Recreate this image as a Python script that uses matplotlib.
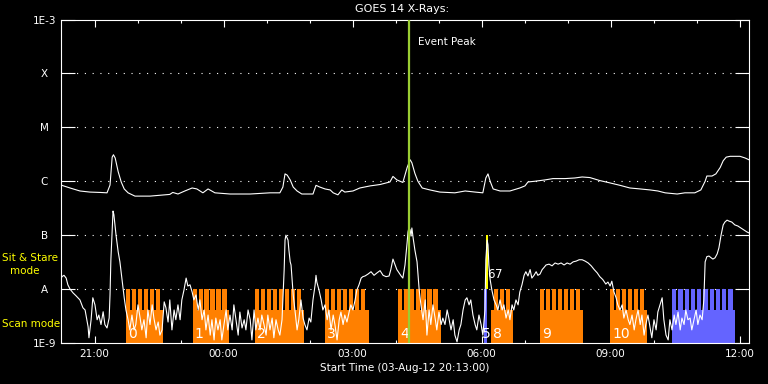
import numpy as np
import matplotlib
matplotlib.use('Agg')
import matplotlib.pyplot as plt
import matplotlib.dates as mdates
import matplotlib.transforms as mtransforms
from matplotlib.ticker import NullLocator

start = np.datetime64('2012-08-03T20:13:00')

# GOES 14 long channel (1-8 A): hours after start, flux W/m^2
long_hours = [0.00, 0.21, 0.44, 0.67, 0.91, 1.07, 1.14, 1.19, 1.22, 1.26, 1.33, 1.40, 1.47,
              1.56, 1.72, 2.07, 2.53, 2.60, 2.72, 2.88, 3.05, 3.16, 3.30, 3.42, 3.58, 3.93,
              4.40, 4.86, 5.09, 5.16, 5.21, 5.26, 5.33, 5.40, 5.49, 5.60, 5.86, 5.93, 6.02,
              6.14, 6.26, 6.33, 6.44, 6.53, 6.60, 6.79, 6.95, 7.19, 7.42, 7.65, 7.72, 7.81,
              7.95, 8.05, 8.12, 8.16, 8.23, 8.30, 8.40, 8.58, 8.81, 9.16, 9.40, 9.63, 9.81,
              9.88, 9.93, 9.98, 10.05, 10.21, 10.44, 10.67, 10.79, 10.86, 11.02, 11.26, 11.44,
              11.72, 11.95, 12.12, 12.30, 12.53, 12.77, 13.00, 13.23, 13.47, 13.70, 13.88,
              14.05, 14.33, 14.51, 14.74, 14.88, 14.98, 15.02, 15.14, 15.23, 15.33, 15.40,
              15.47, 15.56, 15.79, 15.91, 16.00]
long_flux = [8.5e-7, 7.5e-7, 6.6e-7, 6.3e-7, 6.2e-7, 6.1e-7, 8.5e-7, 2.8e-6, 3.1e-6, 2.7e-6,
             1.5e-6, 9.7e-7, 7.2e-7, 6.1e-7, 5.3e-7, 5.3e-7, 5.7e-7, 6.2e-7, 5.8e-7, 6.6e-7,
             7.5e-7, 7.2e-7, 6.1e-7, 7.2e-7, 6.1e-7, 5.8e-7, 5.8e-7, 6.1e-7, 6.1e-7, 7.8e-7,
             1.37e-6, 1.3e-6, 1.06e-6, 7.8e-7, 6.6e-7, 5.8e-7, 5.8e-7, 8.4e-7, 7.8e-7, 7.2e-7,
             6.9e-7, 6.1e-7, 5.6e-7, 6.9e-7, 6.3e-7, 6.6e-7, 7.5e-7, 8.2e-7, 8.7e-7, 9.7e-7,
             1.23e-6, 1.06e-6, 9.5e-7, 1.8e-6, 2.5e-6, 2.2e-6, 1.4e-6, 1.0e-6, 7.5e-7, 6.9e-7,
             6.3e-7, 6.1e-7, 6.6e-7, 6.3e-7, 6.1e-7, 1.15e-6, 1.37e-6, 1.0e-6, 7.2e-7, 6.6e-7,
             6.6e-7, 7.5e-7, 8.2e-7, 9.7e-7, 1.0e-6, 1.06e-6, 1.12e-6, 1.12e-6, 1.15e-6, 1.2e-6,
             1.17e-6, 1.03e-6, 9.3e-7, 8.4e-7, 7.5e-7, 7.2e-7, 6.9e-7, 6.6e-7, 6.1e-7, 5.8e-7,
             6.1e-7, 6.1e-7, 6.9e-7, 1.0e-6, 1.25e-6, 1.25e-6, 1.37e-6, 1.8e-6, 2.4e-6, 2.8e-6,
             2.9e-6, 2.9e-6, 2.7e-6, 2.5e-6]

# GOES 14 short channel (0.5-4 A)
short_hours = [0.00, 0.02, 0.07, 0.12, 0.16, 0.21, 0.28, 0.35, 0.44, 0.51, 0.56, 0.63, 0.65,
               0.70, 0.74, 0.79, 0.84, 0.88, 0.93, 0.98, 1.02, 1.07, 1.12, 1.14, 1.16, 1.19,
               1.21, 1.23, 1.28, 1.33, 1.37, 1.42, 1.47, 1.51, 1.56, 1.60, 1.65, 1.70, 1.74,
               1.79, 1.84, 1.88, 1.93, 1.98, 2.02, 2.07, 2.12, 2.16, 2.21, 2.26, 2.30, 2.35,
               2.40, 2.44, 2.49, 2.53, 2.58, 2.63, 2.67, 2.72, 2.77, 2.81, 2.86, 2.91, 2.95,
               3.00, 3.05, 3.09, 3.14, 3.19, 3.23, 3.28, 3.33, 3.37, 3.42, 3.47, 3.51, 3.56,
               3.60, 3.65, 3.70, 3.74, 3.79, 3.84, 3.88, 3.93, 3.98, 4.02, 4.07, 4.12, 4.16,
               4.21, 4.26, 4.30, 4.35, 4.40, 4.44, 4.49, 4.53, 4.58, 4.63, 4.67, 4.72, 4.77,
               4.81, 4.86, 4.91, 4.95, 5.00, 5.05, 5.09, 5.14, 5.16, 5.19, 5.21, 5.23, 5.28,
               5.30, 5.33, 5.35, 5.40, 5.44, 5.49, 5.53, 5.58, 5.63, 5.67, 5.72, 5.77, 5.81,
               5.86, 5.91, 5.93, 5.95, 6.00, 6.05, 6.09, 6.14, 6.19, 6.23, 6.28, 6.33, 6.37,
               6.42, 6.47, 6.51, 6.56, 6.60, 6.65, 6.70, 6.74, 6.79, 6.84, 6.88, 6.93, 6.98,
               7.02, 7.07, 7.14, 7.21, 7.28, 7.35, 7.42, 7.49, 7.56, 7.63, 7.67, 7.72, 7.77,
               7.81, 7.86, 7.91, 7.95, 8.00, 8.05, 8.07, 8.09, 8.12, 8.14, 8.16, 8.19, 8.23,
               8.28, 8.33, 8.37, 8.42, 8.47, 8.51, 8.56, 8.60, 8.65, 8.70, 8.74, 8.79, 8.84,
               8.88, 8.93, 8.98, 9.02, 9.07, 9.12, 9.16, 9.21, 9.26, 9.30, 9.35, 9.40, 9.44,
               9.49, 9.53, 9.58, 9.63, 9.67, 9.72, 9.77, 9.81, 9.86, 9.88, 9.91, 9.93, 9.95,
               9.98, 10.02, 10.07, 10.12, 10.16, 10.21, 10.26, 10.30, 10.35, 10.40, 10.44,
               10.49, 10.53, 10.58, 10.63, 10.67, 10.72, 10.77, 10.81, 10.86, 10.91, 10.95,
               11.00, 11.05, 11.09, 11.14, 11.19, 11.23, 11.28, 11.35, 11.42, 11.49, 11.56,
               11.63, 11.70, 11.77, 11.84, 11.91, 11.98, 12.05, 12.12, 12.19, 12.26, 12.33,
               12.40, 12.47, 12.53, 12.60, 12.67, 12.72, 12.77, 12.81, 12.86, 12.91, 12.95,
               13.00, 13.05, 13.09, 13.14, 13.19, 13.23, 13.28, 13.33, 13.37, 13.42, 13.47,
               13.51, 13.56, 13.60, 13.65, 13.70, 13.74, 13.79, 13.84, 13.88, 13.93, 13.98,
               14.02, 14.07, 14.12, 14.16, 14.21, 14.26, 14.30, 14.35, 14.40, 14.44, 14.49,
               14.53, 14.58, 14.63, 14.67, 14.72, 14.77, 14.81, 14.86, 14.91, 14.95, 14.98,
               15.02, 15.07, 15.12, 15.16, 15.21, 15.26, 15.30, 15.35, 15.40, 15.44, 15.49,
               15.53, 15.60, 15.67, 15.74, 15.81, 15.88, 15.95, 16.00]
short_flux = [1.5e-8, 1.7e-8, 1.8e-8, 1.6e-8, 1.2e-8, 1.0e-8, 8.5e-9, 7.5e-9, 6.3e-9, 4.5e-9,
              4.1e-9, 2.0e-9, 1.25e-9, 2.7e-9, 6.9e-9, 5.1e-9, 2.7e-9, 3.3e-9, 2.2e-9, 3.8e-9,
              2.2e-9, 1.9e-9, 2.9e-9, 7.8e-9, 3.5e-8, 1.25e-7, 2.8e-7, 2.4e-7, 1.0e-7, 4.9e-8,
              3.2e-8, 1.5e-8, 6.9e-9, 4.1e-9, 2.7e-9, 1.75e-9, 3.3e-9, 1.75e-9, 2.2e-9, 5.1e-9,
              2.9e-9, 1.75e-9, 2.7e-9, 1.25e-9, 4.1e-9, 2.2e-9, 5.1e-9, 2.9e-9, 1.75e-9, 2.45e-9,
              1.4e-9, 1.75e-9, 5.8e-9, 4.5e-9, 2.45e-9, 6.3e-9, 1.75e-9, 4.1e-9, 2.7e-9, 5.1e-9,
              2.7e-9, 6.3e-9, 9.6e-9, 1.6e-8, 1.14e-8, 1.2e-8, 8.8e-9, 6.3e-9, 7.8e-9, 4.1e-9,
              6.3e-9, 2.7e-9, 4.1e-9, 1.75e-9, 3.3e-9, 1.4e-9, 2.7e-9, 1.14e-9, 2.9e-9, 1.75e-9,
              2.7e-9, 1.14e-9, 2.2e-9, 4.1e-9, 1.75e-9, 3.3e-9, 1.75e-9, 5.1e-9, 2.7e-9, 1.4e-9,
              3.75e-9, 1.9e-9, 2.7e-9, 1.75e-9, 4.1e-9, 2.7e-9, 1.14e-9, 4.1e-9, 1.75e-9, 2.9e-9,
              1.75e-9, 3.3e-9, 2.2e-9, 1.4e-9, 3.3e-9, 1.75e-9, 2.9e-9, 1.25e-9, 2.7e-9, 1.75e-9,
              1.4e-9, 2.7e-9, 6.3e-9, 2.3e-8, 8.1e-8, 1.0e-7, 8.1e-8, 5.3e-8, 3.2e-8, 2.8e-8,
              7.8e-9, 4.1e-9, 1.75e-9, 2.7e-9, 6.3e-9, 2.9e-9, 2.2e-9, 1.75e-9, 2.9e-9, 2.45e-9,
              6.3e-9, 1.2e-8, 1.8e-8, 1.35e-8, 9.6e-9, 6.3e-9, 4.1e-9, 5.1e-9, 2.7e-9, 4.1e-9,
              1.75e-9, 3.3e-9, 2.2e-9, 1.14e-9, 2.7e-9, 3.75e-9, 2.2e-9, 3.3e-9, 2.45e-9, 3.75e-9,
              5.1e-9, 4.1e-9, 6.3e-9, 9.6e-9, 1.2e-8, 1.6e-8, 1.7e-8, 1.75e-8, 1.9e-8, 2.1e-8,
              1.8e-8, 2.0e-8, 2.2e-8, 1.8e-8, 1.7e-8, 1.75e-8, 2.3e-8, 3.6e-8, 2.8e-8, 2.3e-8,
              2.0e-8, 1.75e-8, 1.6e-8, 2.8e-8, 7.4e-8, 1.15e-7, 1.36e-7, 1.25e-7, 9.6e-8, 1.36e-7,
              8.8e-8, 5.3e-8, 3.2e-8, 9.6e-9, 5.1e-9, 2.7e-9, 6.3e-9, 1.4e-9, 4.1e-9, 2.2e-9,
              5.1e-9, 2.9e-9, 1.75e-9, 3.75e-9, 2.2e-9, 2.9e-9, 2.2e-9, 4.1e-9, 2.9e-9, 1.75e-9,
              2.7e-9, 1.4e-9, 1.05e-9, 1.75e-9, 2.2e-9, 4.1e-9, 6.3e-9, 6.9e-9, 5.1e-9, 6.3e-9,
              3.3e-9, 2.2e-9, 1.75e-9, 3.3e-9, 2.2e-9, 1.4e-9, 4.1e-9, 3.5e-8, 8.1e-8, 6.6e-8,
              2.8e-8, 1.5e-8, 9.6e-9, 6.3e-9, 5.1e-9, 4.1e-9, 6.3e-9, 4.1e-9, 5.1e-9, 2.9e-9,
              4.1e-9, 2.7e-9, 5.1e-9, 4.1e-9, 6.3e-9, 5.1e-9, 8.8e-9, 1.2e-8, 1.8e-8, 2.1e-8,
              1.75e-8, 2.3e-8, 1.6e-8, 1.8e-8, 2.1e-8, 1.8e-8, 1.9e-8, 2.3e-8, 2.5e-8, 2.8e-8,
              2.9e-8, 2.7e-8, 3.05e-8, 2.9e-8, 3.05e-8, 2.8e-8, 3.05e-8, 2.9e-8, 3.2e-8, 3.3e-8,
              3.5e-8, 3.5e-8, 3.3e-8, 3.05e-8, 2.7e-8, 2.3e-8, 2.0e-8, 1.7e-8, 1.5e-8, 1.24e-8,
              1.35e-8, 1.14e-8, 1.4e-8, 8.8e-9, 6.9e-9, 5.1e-9, 4.1e-9, 5.1e-9, 2.9e-9, 4.1e-9,
              2.7e-9, 2.2e-9, 3.3e-9, 1.75e-9, 2.7e-9, 4.1e-9, 2.2e-9, 3.3e-9, 1.4e-9, 2.2e-9,
              3.3e-9, 1.9e-9, 1.25e-9, 2.7e-9, 1.75e-9, 3.75e-9, 5.1e-9, 6.9e-9, 2.7e-9, 1.4e-9,
              1.14e-9, 2.7e-9, 1.75e-9, 3.3e-9, 2.2e-9, 3.75e-9, 1.75e-9, 2.9e-9, 2.2e-9, 4.1e-9,
              2.7e-9, 2.9e-9, 1.75e-9, 2.7e-9, 4.1e-9, 2.2e-9, 3.3e-9, 2.7e-9, 6.3e-9, 3.2e-8,
              4.0e-8, 4.1e-8, 3.8e-8, 3.6e-8, 3.8e-8, 4.5e-8, 5.8e-8, 1.0e-7, 1.55e-7, 1.75e-7,
              1.9e-7, 1.83e-7, 1.75e-7, 1.55e-7, 1.48e-7, 1.36e-7, 1.25e-7, 1.15e-7, 1.1e-7]

# scan mode observations (hours after start)
scan_start = [1.51, 3.06, 4.51, 6.14, 7.83, 9.84, 9.99, 11.14, 12.77, 14.21]
scan_end = [2.37, 3.91, 5.65, 7.16, 8.84, 9.90, 10.50, 12.13, 13.62, 15.67]
teeth_start = [1.51, 3.06, 4.51, 6.14, 7.83, 9.84, 10.07, 11.14, 12.77, 14.21]
teeth_end = [2.30, 3.85, 5.59, 7.08, 8.76, 9.90, 10.44, 12.07, 13.56, 15.62]
n_teeth = [6, 6, 8, 7, 7, 1, 3, 7, 6, 10]
scan_label = ['0', '1', '2', '3', '4', '5', '8', '9', '10', '']
scan_color = ['#ff8000'] * 5 + ['#6464ff'] + ['#ff8000'] * 3 + ['#6464ff']

# sit & stare observations
sit_start = [9.88, 9.88]
sit_end = [9.93, 9.93]
sit_label = ['6', '7']

event_peak = 8.09

tick_names = ['1E-9', 'A', 'B', 'C', 'M', 'X', '1E-3']
tick_levels = [1e-9, 1e-8, 1e-7, 1e-6, 1e-5, 1e-4, 1e-3]

t0 = mdates.date2num(start)


def to_x(hours):
    return t0 + np.asarray(hours) / 24.0


tooth_w = 0.10
fig = plt.figure(figsize=(7.68, 3.84), dpi=100, facecolor='black')
ax = fig.add_axes([61 / 768, 1 - 343 / 384, 688 / 768, 323.5 / 384])
ax.set_facecolor('black')
ax.set_yscale('log')
ax.set_ylim(1e-9, 1e-3)
ax.set_xlim(to_x(0), to_x(16))

for lev in tick_levels[1:-1]:
    ax.axhline(lev, color='white', lw=0.8, ls=(0, (1, 6)), zorder=1)

# scan blocks: solid base plus comb of teeth up to level A
for i in range(len(scan_start)):
    s, e = scan_start[i], scan_end[i]
    c = scan_color[i]
    n = n_teeth[i]
    if n == 1:
        ax.broken_barh([(to_x(s), (e - s) / 24)], (1e-9, 9e-9), facecolor=c, zorder=2)
    else:
        ax.broken_barh([(to_x(s), (e - s) / 24)], (1e-9, 3.1e-9), facecolor=c, zorder=2)
        period = (teeth_end[i] - teeth_start[i] - tooth_w) / (n - 1)
        teeth = [(to_x(teeth_start[i] + k * period), tooth_w / 24) for k in range(n)]
        ax.broken_barh(teeth, (4.1e-9, 5.9e-9), facecolor=c, zorder=2)
    if scan_label[i] == '5':
        # squeezed in just before block 8
        ax.text(to_x(scan_start[i + 1]), 1.25e-9, scan_label[i], color='white', fontsize=10,
                ha='right', va='baseline', zorder=5)
    elif scan_label[i]:
        ax.text(to_x(s + 0.05), 1.25e-9, scan_label[i], color='white', fontsize=10,
                ha='left', va='baseline', zorder=5)

for i in range(len(sit_start)):
    ax.broken_barh([(to_x(sit_start[i]), (sit_end[i] - sit_start[i]) / 24)], (1e-8, 9e-8),
                   facecolor='#ffff00', zorder=2)
    ax.text(to_x(sit_start[i] + 0.03 + 0.19 * i), 1.6e-8, sit_label[i], color='white',
            fontsize=8.5, ha='left', va='baseline', zorder=5)

ax.plot(to_x(long_hours), long_flux, color='white', lw=0.8, zorder=4)
ax.plot(to_x(short_hours), short_flux, color='white', lw=0.8, zorder=4)

ax.axvline(to_x(event_peak), color='#9acd32', lw=1.6, zorder=6)
trans = mtransforms.blended_transform_factory(ax.transData, ax.transAxes)
ax.text(to_x(event_peak + 0.21), 0.93, 'Event Peak', color='white', fontsize=7.5,
        ha='left', va='center', transform=trans)

# axes styling
for sp in ax.spines.values():
    sp.set_color('white')
    sp.set_linewidth(0.8)
ax.set_yticks(tick_levels)
ax.set_yticklabels(tick_names)
ax.yaxis.set_minor_locator(NullLocator())
ax.tick_params(axis='y', which='major', direction='in', length=10, width=0.8, colors='white',
               left=True, right=True, labelsize=7.5, pad=12)
for lab in ax.get_yticklabels():
    lab.set_horizontalalignment('center')

ax.xaxis.set_major_locator(mdates.HourLocator(byhour=[0, 3, 6, 9, 12, 15, 18, 21]))
ax.xaxis.set_minor_locator(mdates.HourLocator())
ax.xaxis.set_major_formatter(mdates.DateFormatter('%H:%M'))
ax.tick_params(axis='x', which='major', direction='in', length=5, width=0.8, colors='white',
               top=True, bottom=True, labelsize=7.5, pad=4)
ax.tick_params(axis='x', which='minor', direction='in', length=2.5, width=0.8, colors='white',
               top=True, bottom=True)
ax.set_xlabel('Start Time (03-Aug-12 20:13:00)', color='white', fontsize=7.5, labelpad=3)

fig.text(402 / 768, 1 - 9 / 384, 'GOES 14 X-Rays:', color='white', fontsize=8,
         ha='center', va='center')
fig.text(2 / 768, 1 - 258 / 384, 'Sit & Stare', color='#ffff00', fontsize=7.5,
         ha='left', va='center')
fig.text(25 / 768, 1 - 271 / 384, 'mode', color='#ffff00', fontsize=7.5,
         ha='center', va='center')
fig.text(2 / 768, 1 - 324 / 384, 'Scan mode', color='#ffff00', fontsize=7.5,
         ha='left', va='center')

fig.savefig('out.png', dpi=100, facecolor='black')
